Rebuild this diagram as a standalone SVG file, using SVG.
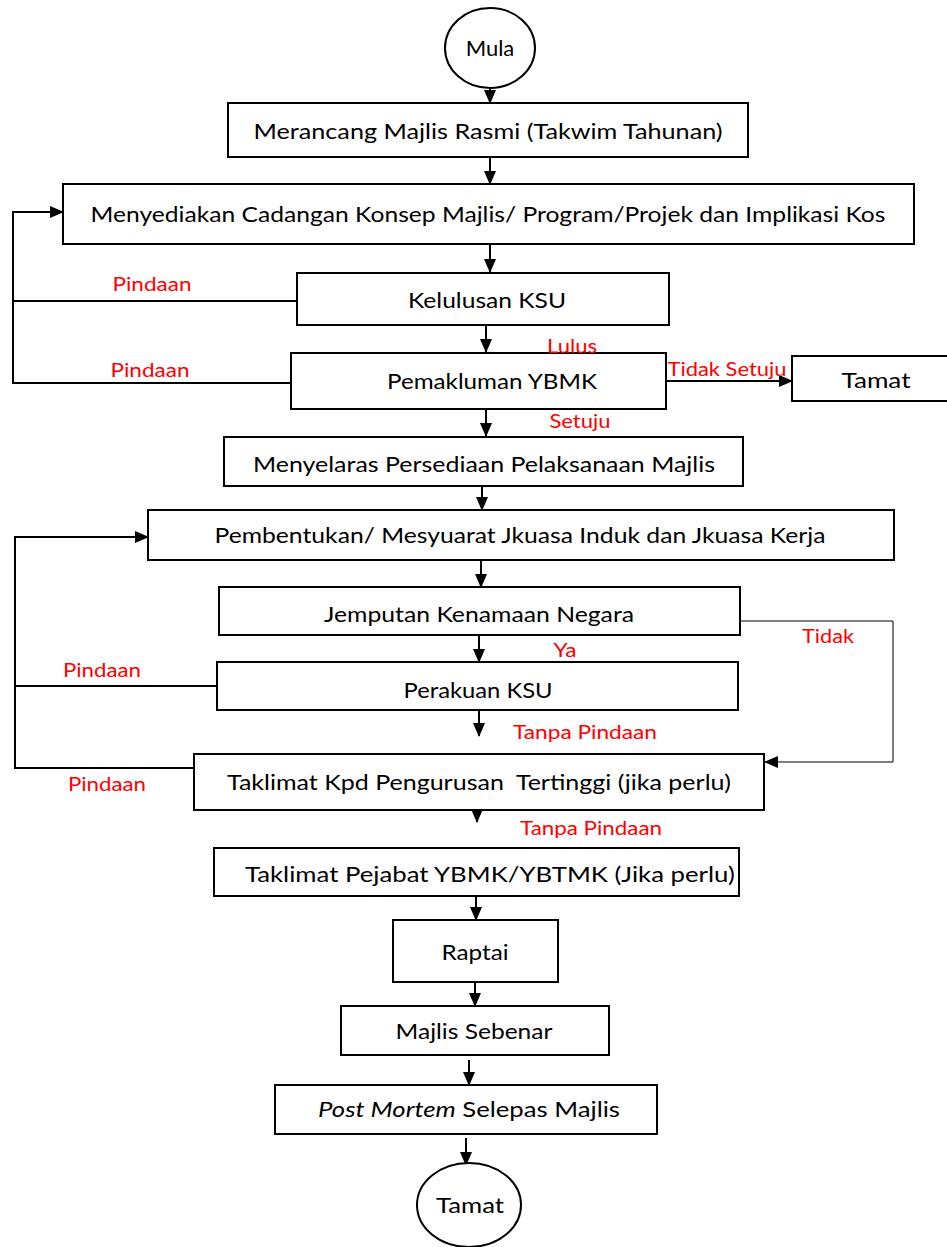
<svg xmlns="http://www.w3.org/2000/svg" width="947" height="1247" viewBox="0 0 947 1247">
<style>
.box{fill:#fff;stroke:#000;stroke-width:2}
.t{font-family:Lato,"Open Sans",sans-serif;font-size:22px;fill:#000;text-anchor:middle}
.r{font-family:Lato,"Open Sans",sans-serif;font-size:18.5px;fill:#ff0000;text-anchor:middle}
.c{fill:none;stroke:#000;stroke-width:2}
.thin{fill:none;stroke:#000;stroke-width:1}
</style>
<defs>
<marker id="ah" markerUnits="userSpaceOnUse" markerWidth="14" markerHeight="12" refX="13" refY="6" orient="auto">
<path d="M0,0 L14,6 L0,12 Z" fill="#000"/>
</marker>
</defs>
<rect width="947" height="1247" fill="#fff"/>
<g id="connectors">
<line class="c" x1="490" y1="88" x2="490" y2="103" marker-end="url(#ah)"/>
<line class="c" x1="490" y1="157" x2="490" y2="184" marker-end="url(#ah)"/>
<line class="c" x1="490" y1="244" x2="490" y2="272" marker-end="url(#ah)"/>
<line class="c" x1="486" y1="325" x2="486" y2="352" marker-end="url(#ah)"/>
<line class="c" x1="486" y1="409" x2="486" y2="436" marker-end="url(#ah)"/>
<line class="c" x1="482" y1="486" x2="482" y2="510" marker-end="url(#ah)"/>
<line class="c" x1="481" y1="560" x2="481" y2="587" marker-end="url(#ah)"/>
<line class="c" x1="479" y1="635" x2="479" y2="662" marker-end="url(#ah)"/>
<line class="c" x1="479" y1="710" x2="479" y2="736" marker-end="url(#ah)"/>
<line class="c" x1="477" y1="797" x2="477" y2="822" marker-end="url(#ah)"/>
<line class="c" x1="476" y1="897" x2="476" y2="920" marker-end="url(#ah)"/>
<line class="c" x1="475" y1="982" x2="475" y2="1006" marker-end="url(#ah)"/>
<line class="c" x1="469" y1="1060" x2="469" y2="1085" marker-end="url(#ah)"/>
<line class="c" x1="466" y1="1138" x2="466" y2="1165" marker-end="url(#ah)"/>
<line class="c" x1="666" y1="381" x2="792" y2="381" marker-end="url(#ah)"/>
<polyline class="c" points="297,301 13,301"/>
<polyline class="c" points="291,383 13,383 13,212 63,212" marker-end="url(#ah)"/>
<polyline class="c" points="218,686 15,686"/>
<polyline class="c" points="194,768 15,768 15,537 148,537" marker-end="url(#ah)"/>
<polyline class="thin" points="740,621 893,621 893,762 765,762" marker-end="url(#ah)"/>
</g>
<g id="n-mula"><ellipse class="box" cx="490" cy="48" rx="45" ry="40"/><text class="t" x="490" y="56">Mula</text></g>
<g id="n-merancang"><rect class="box" x="228" y="103" width="520" height="54"/><text class="t" x="488" y="139" textLength="469" lengthAdjust="spacingAndGlyphs">Merancang Majlis Rasmi (Takwim Tahunan)</text></g>
<g id="n-menyediakan"><rect class="box" x="63" y="184" width="851" height="60"/><text class="t" x="488" y="222" textLength="795" lengthAdjust="spacingAndGlyphs">Menyediakan Cadangan Konsep Majlis/ Program/Projek dan Implikasi Kos</text></g>
<g id="n-kelulusan"><rect class="box" x="297" y="273" width="372" height="52"/><text class="t" x="487" y="308" textLength="158" lengthAdjust="spacingAndGlyphs">Kelulusan KSU</text></g>
<g id="n-pemakluman"><rect class="box" x="291" y="353" width="375" height="56"/><text class="t" x="492" y="389" textLength="210" lengthAdjust="spacingAndGlyphs">Pemakluman YBMK</text></g>
<g id="n-tamat1"><rect class="box" x="792" y="356" width="160" height="45"/><text class="t" x="876" y="388" textLength="69" lengthAdjust="spacingAndGlyphs">Tamat</text></g>
<g id="n-menyelaras"><rect class="box" x="224" y="437" width="519" height="49"/><text class="t" x="484" y="472" textLength="462" lengthAdjust="spacingAndGlyphs">Menyelaras Persediaan Pelaksanaan Majlis</text></g>
<g id="n-pembentukan"><rect class="box" x="148" y="510" width="746" height="50"/><text class="t" x="520" y="543" textLength="611" lengthAdjust="spacingAndGlyphs">Pembentukan/ Mesyuarat Jkuasa Induk dan Jkuasa Kerja</text></g>
<g id="n-jemputan"><rect class="box" x="219" y="587" width="521" height="48"/><text class="t" x="479" y="622" textLength="310" lengthAdjust="spacingAndGlyphs">Jemputan Kenamaan Negara</text></g>
<g id="n-perakuan"><rect class="box" x="217" y="662" width="521" height="48"/><text class="t" x="478" y="698" textLength="149" lengthAdjust="spacingAndGlyphs">Perakuan KSU</text></g>
<g id="n-taklimat1"><rect class="box" x="194" y="754" width="570" height="56"/><text class="t" x="479" y="790" textLength="504" lengthAdjust="spacingAndGlyphs" xml:space="preserve">Taklimat Kpd Pengurusan  Tertinggi (jika perlu)</text></g>
<g id="n-taklimat2"><rect class="box" x="214" y="848" width="525" height="48"/><text class="t" x="490" y="882" textLength="490" lengthAdjust="spacingAndGlyphs">Taklimat Pejabat YBMK/YBTMK (Jika perlu)</text></g>
<g id="n-raptai"><rect class="box" x="393" y="920" width="165" height="62"/><text class="t" x="475" y="960" textLength="67" lengthAdjust="spacingAndGlyphs">Raptai</text></g>
<g id="n-majlis"><rect class="box" x="341" y="1006" width="268" height="49"/><text class="t" x="474" y="1039" textLength="157" lengthAdjust="spacingAndGlyphs">Majlis Sebenar</text></g>
<g id="n-postmortem"><rect class="box" x="275" y="1085" width="382" height="49"/><text class="t" x="469" y="1117" textLength="302" lengthAdjust="spacingAndGlyphs"><tspan font-style="italic">Post Mortem</tspan> Selepas Majlis</text></g>
<g id="n-tamat2"><ellipse class="box" cx="469" cy="1205" rx="52" ry="42"/><text class="t" x="470" y="1213" textLength="68" lengthAdjust="spacingAndGlyphs">Tamat</text></g>
<g id="labels">
<text class="r" x="152" y="291" textLength="79" lengthAdjust="spacingAndGlyphs">Pindaan</text>
<text class="r" x="150" y="377" textLength="79" lengthAdjust="spacingAndGlyphs">Pindaan</text>
<text class="r" x="572" y="353" textLength="50" lengthAdjust="spacingAndGlyphs">Lulus</text>
<text class="r" x="727" y="376" textLength="119" lengthAdjust="spacingAndGlyphs">Tidak Setuju</text>
<text class="r" x="580" y="428" textLength="61" lengthAdjust="spacingAndGlyphs">Setuju</text>
<text class="r" x="828" y="643" textLength="52" lengthAdjust="spacingAndGlyphs">Tidak</text>
<text class="r" x="565" y="657" textLength="23" lengthAdjust="spacingAndGlyphs">Ya</text>
<text class="r" x="102" y="677" textLength="78" lengthAdjust="spacingAndGlyphs">Pindaan</text>
<text class="r" x="585" y="739" textLength="144" lengthAdjust="spacingAndGlyphs">Tanpa Pindaan</text>
<text class="r" x="107" y="791" textLength="78" lengthAdjust="spacingAndGlyphs">Pindaan</text>
<text class="r" x="591" y="835" textLength="142" lengthAdjust="spacingAndGlyphs">Tanpa Pindaan</text>
</g>
</svg>
